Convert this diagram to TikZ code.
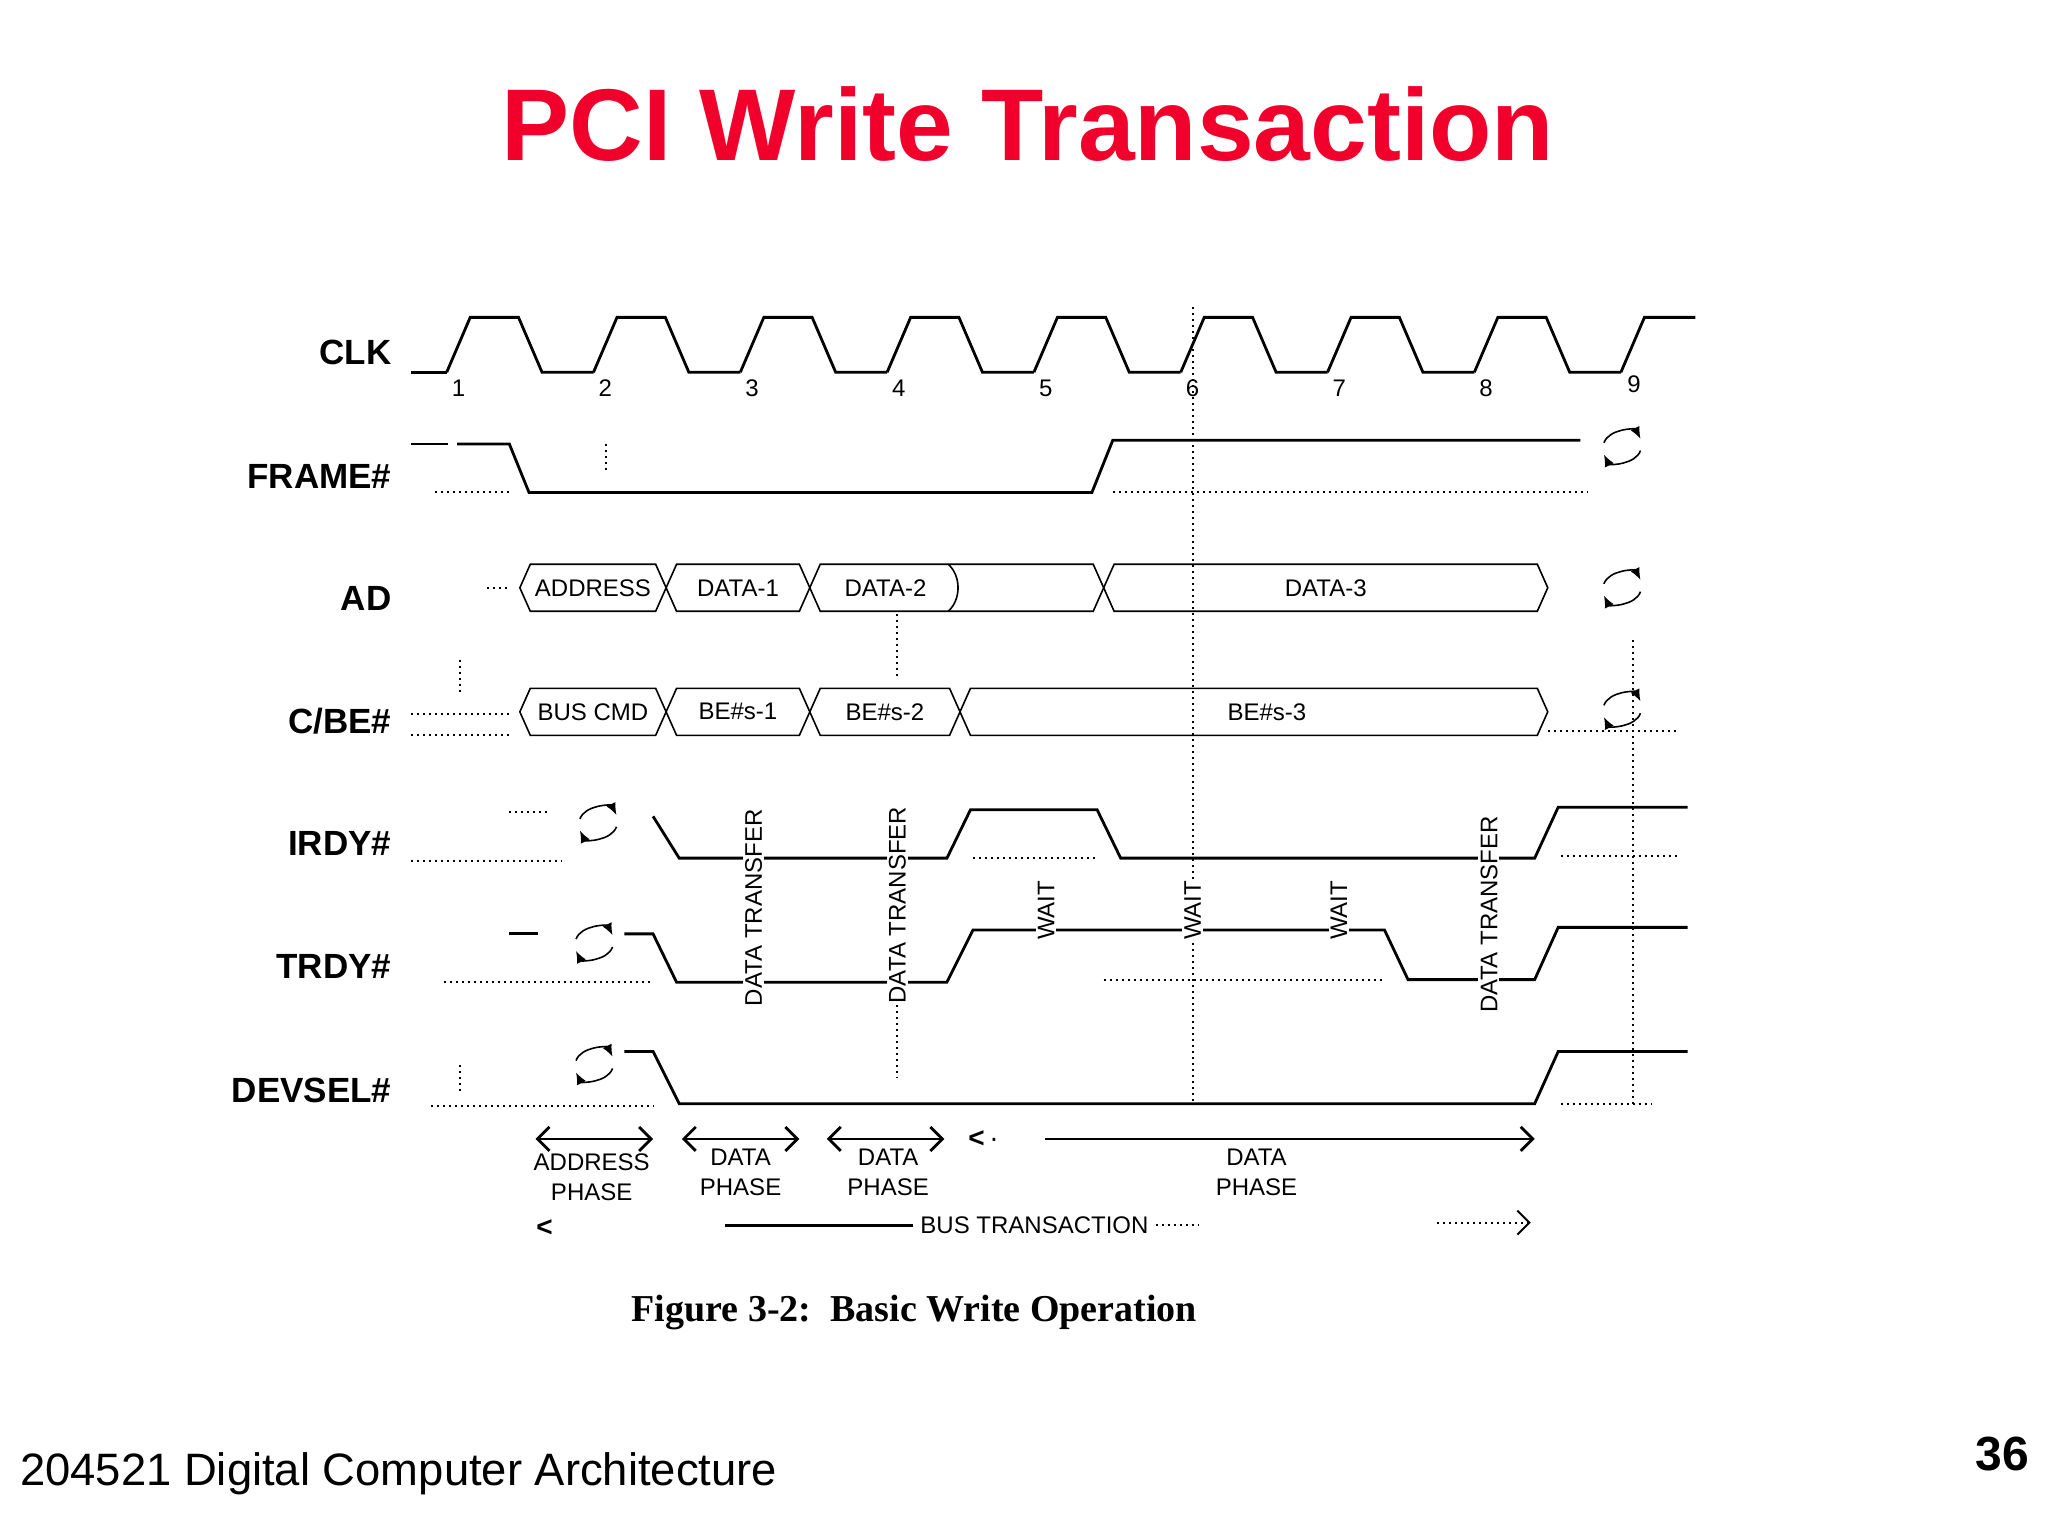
\documentclass[tikz,border=0pt]{standalone}
\usepackage{fontspec}
\setmainfont{Liberation Sans}
\newfontfamily\capfont{Liberation Serif}
\usetikzlibrary{positioning, arrows.meta, calc}
\definecolor{titlered}{HTML}{F0002A}

% hexagon-ended bus value
\newcommand{\busbox}[5]{%
  \draw[thick] (#1,#3) -- (#1+8,#3-18) -- (#2-8,#3-18) -- (#2,#3) -- (#2-8,#3+18) -- (#1+8,#3+18) -- cycle;
  \node[boxtext] (#5) at ({(#1+#2)/2},#3) {#4};}
% turnaround mark
\newcommand{\turnaround}[2]{%
  \draw[thick, -{Latex[length=6pt,width=5pt]}] (#1-14,#2-3) .. controls (#1-10,#2-14) and (#1+10,#2-14) .. (#1+14,#2-6);
  \draw[thick, -{Latex[length=6pt,width=5pt]}] (#1+14,#2+3) .. controls (#1+10,#2+14) and (#1-10,#2+14) .. (#1-14,#2+6);}

\begin{document}
\begin{tikzpicture}[x=0.653pt, y=-0.653pt,
    sig/.style={line width=1.4pt},
    dots/.style={dotted, line width=1pt},
    siglabel/.style={font=\bfseries\fontsize{17.5}{19}\selectfont, anchor=east},
    boxtext/.style={font=\fontsize{12}{13}\selectfont},
    numtext/.style={font=\fontsize{12}{13}\selectfont},
    vtext/.style={font=\fontsize{12}{13}\selectfont, rotate=90},
    phasetext/.style={font=\fontsize{12}{15}\selectfont, align=center, anchor=north}]

  % Frame
  \useasboundingbox (0,0) rectangle (1568,1176);
  \fill[white] (0,0) rectangle (1568,1176);

  % Title and footer
  \node[font=\bfseries\fontsize{51}{55}\selectfont, text=titlered] (title) at (787,95) {PCI Write Transaction};
  \node[font=\fontsize{22.7}{25}\selectfont, anchor=west] (course) at (10,1128) {204521 Digital Computer Architecture};
  \node[font=\bfseries\fontsize{24}{26}\selectfont] (page) at (1533,1113) {36};

  % Signal names
  \node[siglabel] (clk) at (305,270) {CLK};
  \node[siglabel] (frame) at (305,365) {FRAME\#};
  \node[siglabel] (ad) at (305,458) {AD};
  \node[siglabel] (cbe) at (305,552) {C/BE\#};
  \node[siglabel] (irdy) at (305,646) {IRDY\#};
  \node[siglabel] (trdy) at (305,740) {TRDY\#};
  \node[siglabel] (devsel) at (305,835) {DEVSEL\#};

  % Clock
  \draw[sig] (315,285) -- (342,285);
  \foreach \n in {1,...,8} {
    \pgfmathsetmacro{\c}{351+112.4*(\n-1)}
    \draw[sig] (\c-9,285) -- (\c+9,243) -- (\c+46,243) -- (\c+64,285) -- (\c+103.4,285);
    \node[numtext] (n\n) at (\c,297) {\n};
  }
  \draw[sig] (1241,285) -- (1259,243) -- (1298,243);
  \node[numtext] (n9) at (1251,294) {9};

  % Cycle markers
  \draw[dots] (913,235) -- (913,845);
  \draw[dots] (687,470) -- (687,520);
  \draw[dots] (687,760) -- (687,825);
  \draw[dots] (1250,490) -- (1250,845);
  \draw[dots] (464,340) -- (464,360);
  \draw[dots] (352,505) -- (352,530);

  % FRAME#
  \draw[sig] (315,340) -- (343,340);
  \draw[sig] (350,340) -- (390,340) -- (405,377) -- (836,377) -- (852,337) -- (1210,337);
  \draw[dots] (333,377) -- (390,377);
  \draw[dots] (852,377) -- (1215,377);
  \turnaround{1242}{342}

  % AD
  \draw[dots] (373,450) -- (390,450);
  \busbox{398}{510}{450}{ADDRESS}{adr}
  \busbox{510}{620}{450}{DATA-1}{d1}
  \busbox{620}{845}{450}{}{d2}
  \node[boxtext] (d2t) at (678,450) {DATA-2};
  \draw[thick] (726,432) .. controls (736,441) and (736,459) .. (726,468);
  \busbox{845}{1185}{450}{DATA-3}{d3}
  \turnaround{1242}{450}

  % C/BE#
  \draw[dots] (315,547) -- (390,547);
  \draw[dots] (315,563) -- (390,563);
  \busbox{398}{510}{545}{BUS CMD}{cmd}
  \busbox{510}{620}{545}{BE\#s-1}{be1}
  \busbox{620}{735}{545}{BE\#s-2}{be2}
  \busbox{735}{1185}{545}{}{be3}
  \node[boxtext] (be3t) at (970,545) {BE\#s-3};
  \draw[dots] (1185,560) -- (1285,560);
  \turnaround{1242}{543}

  % IRDY#
  \draw[dots] (315,659) -- (430,659);
  \draw[dots] (390,622) -- (420,622);
  \turnaround{458}{630}
  \draw[sig] (500,625) -- (520,657) -- (725,657) -- (743,620) -- (840,620) -- (858,657) -- (1175,657) -- (1193,618) -- (1292,618);
  \draw[dots] (745,657) -- (840,657);
  \draw[dots] (1195,655) -- (1285,655);

  % TRDY#
  \draw[dots] (340,752) -- (500,752);
  \draw[sig] (390,715) -- (412,715);
  \turnaround{455}{722}
  \draw[sig] (478,715) -- (500,715) -- (518,752) -- (725,752) -- (745,712) -- (1060,712) -- (1078,750) -- (1175,750) -- (1193,710) -- (1292,710);
  \draw[dots] (845,750) -- (1060,750);

  % DEVSEL#
  \draw[dots] (330,847) -- (500,847);
  \draw[dots] (352,815) -- (352,835);
  \turnaround{455}{815}
  \draw[sig] (478,805) -- (500,805) -- (520,845) -- (1175,845) -- (1193,805) -- (1292,805);
  \draw[dots] (1195,845) -- (1265,845);

  % Rotated annotations
  \node[vtext, fill=white, inner sep=1pt] (tr1) at (577,695) {DATA TRANSFER};
  \node[vtext, fill=white, inner sep=1pt] (tr2) at (687,693) {DATA TRANSFER};
  \node[vtext, fill=white, inner sep=1pt] (tr3) at (1140,700) {DATA TRANSFER};
  \node[vtext, fill=white, inner sep=1pt] (w1) at (801,697) {WAIT};
  \node[vtext, fill=white, inner sep=1pt] (w2) at (913,697) {WAIT};
  \node[vtext, fill=white, inner sep=1pt] (w3) at (1025,697) {WAIT};

  % Phases
  \draw[{Straight Barb[length=6pt]}-{Straight Barb[length=6pt]}, line width=1.4pt] (410,872) -- (500,872);
  \draw[{Straight Barb[length=6pt]}-{Straight Barb[length=6pt]}, line width=1.4pt] (522,872) -- (612,872);
  \draw[{Straight Barb[length=6pt]}-{Straight Barb[length=6pt]}, line width=1.4pt] (633,872) -- (723,872);
  \node[font=\fontsize{14}{14}\selectfont] (lt1) at (753,872) {\textbf{<}\,\textperiodcentered};
  \draw[-{Straight Barb[length=6pt]}, line width=1.4pt] (800,872) -- (1175,872);
  \node[phasetext] (ph1) at (453,878) {ADDRESS\\PHASE};
  \node[phasetext] (ph2) at (567,874) {DATA\\PHASE};
  \node[phasetext] (ph3) at (680,874) {DATA\\PHASE};
  \node[phasetext] (ph4) at (962,874) {DATA\\PHASE};

  % Bus transaction
  \node[font=\bfseries\fontsize{14}{14}\selectfont] (lt2) at (417,940) {<};
  \node[boxtext] (bus) at (792,938) {BUS TRANSACTION};
  \draw[line width=1.4pt] (555,938) -- (bus.west);
  \draw[dots] (bus.east) -- (918,938);
  \draw[dots, -{Straight Barb[length=6pt]}] (1100,936) -- (1172,936);

  % Caption
  \node[font=\capfont\bfseries\fontsize{19}{20}\selectfont] (cap) at (700,1005) {Figure 3-2:\ \ Basic Write Operation};
\end{tikzpicture}
\end{document}
